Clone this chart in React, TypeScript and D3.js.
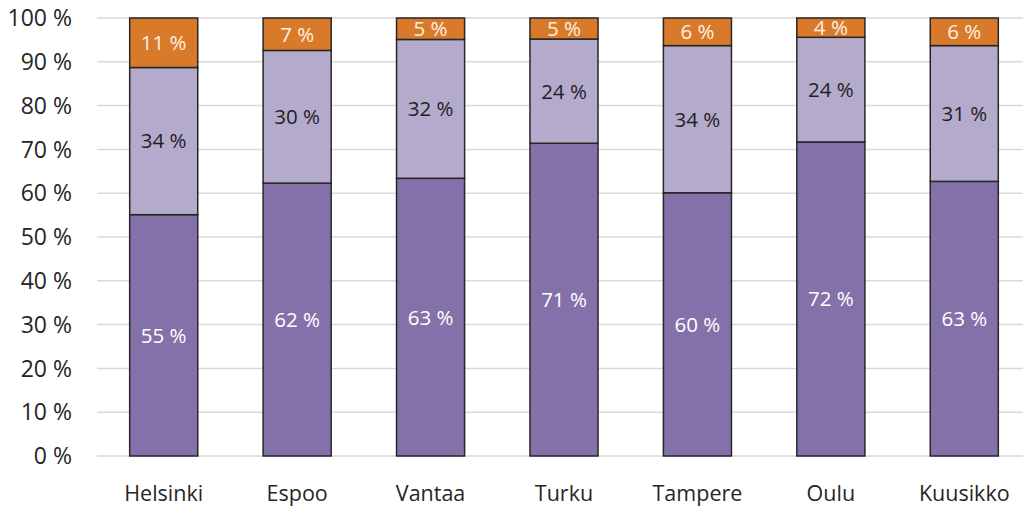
import React, { useEffect, useRef } from 'react'
import * as d3 from 'd3'

// kaupungit ja osuudet (%), alhaalta ylös
const CITIES = ['Helsinki', 'Espoo', 'Vantaa', 'Turku', 'Tampere', 'Oulu', 'Kuusikko']
const BOTTOM = [55.1, 62.3, 63.4, 71.4, 60.1, 71.7, 62.7]
const MIDDLE = [33.6, 30.3, 31.7, 23.8, 33.6, 23.9, 31.0]
const TOP = [11.3, 7.4, 4.9, 4.8, 6.3, 4.4, 6.3]
const Y_TICKS = [0, 10, 20, 30, 40, 50, 60, 70, 80, 90, 100]

const W = 1023
const H = 506
const FONT = '"Open Sans", "Noto Sans", sans-serif'

const SERIES = [
  { values: BOTTOM, fill: '#8571a9', text: '#ffffff' },
  { values: MIDDLE, fill: '#b4aacc', text: '#1f1f1f' },
  { values: TOP, fill: '#d97a2b', text: '#fdf0e2' }
]

const App: React.FC = () => {
  const ref = useRef<SVGSVGElement>(null)

  useEffect(() => {
    if (!ref.current) return
    const svg = d3.select(ref.current)
    svg.selectAll('*').remove()

    const x = d3.scaleBand<string>()
      .domain(CITIES)
      .range([97, 1031])
      .paddingInner(0.49)
      .paddingOuter(0.245)

    const y = d3.scaleLinear().domain([0, 100]).range([456, 18])

    // ruudukko
    svg.append('g')
      .selectAll('line')
      .data(Y_TICKS)
      .join('line')
      .attr('x1', 97)
      .attr('x2', W)
      .attr('y1', d => y(d))
      .attr('y2', d => y(d))
      .attr('stroke', '#d9d9d9')
      .attr('stroke-width', 1.5)

    svg.append('g')
      .selectAll('text')
      .data(Y_TICKS)
      .join('text')
      .attr('x', 72)
      .attr('y', d => y(d))
      .attr('dy', '0.36em')
      .attr('text-anchor', 'end')
      .attr('font-family', FONT)
      .attr('font-size', 23)
      .attr('fill', '#262626')
      .text(d => `${d} %`)

    // pinotut palkit
    CITIES.forEach((city, i) => {
      let acc = 0
      SERIES.forEach(s => {
        const v = s.values[i]
        const y0 = y(acc)
        const y1 = y(acc + v)
        acc += v
        svg.append('rect')
          .attr('x', x(city)!)
          .attr('y', y1)
          .attr('width', x.bandwidth())
          .attr('height', y0 - y1)
          .attr('fill', s.fill)
          .attr('stroke', '#262626')
          .attr('stroke-width', 1.5)
        svg.append('text')
          .attr('x', x(city)! + x.bandwidth() / 2)
          .attr('y', (y0 + y1) / 2)
          .attr('dy', '0.36em')
          .attr('text-anchor', 'middle')
          .attr('font-family', FONT)
          .attr('font-size', 20.5)
          .attr('fill', s.text)
          .text(`${Math.round(v)} %`)
      })
    })

    svg.append('g')
      .selectAll('text')
      .data(CITIES)
      .join('text')
      .attr('x', d => x(d)! + x.bandwidth() / 2)
      .attr('y', 493)
      .attr('dy', '0.36em')
      .attr('text-anchor', 'middle')
      .attr('font-family', FONT)
      .attr('font-size', 21.5)
      .attr('fill', '#262626')
      .text(d => d)
  }, [])

  return (
    <svg
      ref={ref}
      width={W}
      height={H}
      style={{ position: 'absolute', left: 0, top: 0, background: '#fff' }}
    />
  )
}

export default App
